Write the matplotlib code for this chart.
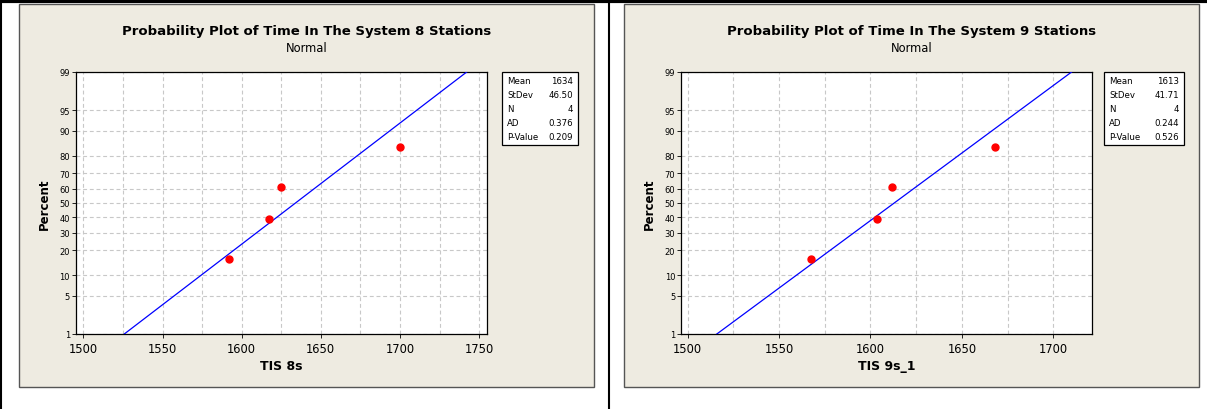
import numpy as np
import matplotlib
matplotlib.use("Agg")
import matplotlib.pyplot as plt
from matplotlib.patches import Rectangle
from matplotlib.lines import Line2D
from statistics import NormalDist

# data
tis8 = [1592.3, 1617.0, 1624.8, 1700.1]
tis9 = [1567.6, 1603.7, 1611.9, 1668.3]
stats_labels = ["Mean", "StDev", "N", "AD", "P-Value"]
stats8 = ["1634", "46.50", "4", "0.376", "0.209"]
stats9 = ["1613", "41.71", "4", "0.244", "0.526"]
mean8, sd8 = 1634, 46.50
mean9, sd9 = 1613, 41.71
pct_ticks = [1, 5, 10, 20, 30, 40, 50, 60, 70, 80, 90, 95, 99]
titles = ["Probability Plot of Time In The System 8 Stations",
          "Probability Plot of Time In The System 9 Stations"]
xlabels = ["TIS 8s", "TIS 9s_1"]

W, H = 1207, 410
nd = NormalDist()

fig = plt.figure(figsize=(W / 100, H / 100), dpi=100)
fig.patch.set_facecolor("white")


def fx(px):
    return px / W


def fy(py):
    return 1 - py / H


def panel(x0, x1, data, mean, sd, stats, title, xlabel, xlim, xmax_tick,
          ax_l, ax_r, leg_l, leg_r):
    # beige graph window
    fig.patches.append(Rectangle((fx(x0), fy(388)), fx(x1) - fx(x0), fy(5) - fy(388),
                                 transform=fig.transFigure, facecolor="#eeebe1",
                                 edgecolor="#555555", lw=1.0, zorder=-1))
    cx = (x0 + x1) / 2
    fig.text(fx(cx), fy(32), title, ha="center", va="center",
             fontsize=9.5, fontweight="bold")
    fig.text(fx(cx), fy(49), "Normal", ha="center", va="center", fontsize=8.3)

    ax = fig.add_axes([fx(ax_l), fy(335), fx(ax_r) - fx(ax_l), fy(73) - fy(335)])
    ax.set_zorder(1)
    ax.set_facecolor("white")
    zlo, zhi = nd.inv_cdf(0.01), nd.inv_cdf(0.99)
    ax.set_ylim(zlo, zhi)
    ax.set_xlim(*xlim)
    yt = [nd.inv_cdf(p / 100) for p in pct_ticks]
    ax.set_yticks(yt)
    ax.set_yticklabels([str(p) for p in pct_ticks], fontsize=6)
    ax.set_xticks(np.arange(1500, xmax_tick + 1, 50))
    ax.set_xticks(np.arange(1500, xmax_tick + 1, 25), minor=True)
    ax.tick_params(axis="x", labelsize=8.3, length=3, width=0.6, pad=3)
    ax.tick_params(axis="x", which="minor", length=0)
    ax.tick_params(axis="y", length=3, width=0.6, pad=1)
    ax.grid(True, which="both", axis="x", ls=(0, (3.5, 2.5)), color="#c8c8c8", lw=0.8)
    ax.grid(True, which="major", axis="y", ls=(0, (3.5, 2.5)), color="#c8c8c8", lw=0.8)
    ax.set_axisbelow(True)
    for s in ax.spines.values():
        s.set_linewidth(0.9)
        s.set_color("black")

    # fitted line from the reported mean and stdev
    zz = np.array([zlo, zhi])
    ax.plot(mean + sd * zz, zz, color="#0000ff", lw=0.9, zorder=3)
    # median ranks
    n = len(data)
    ranks = [(i - 0.3) / (n + 0.4) for i in range(1, n + 1)]
    zr = [nd.inv_cdf(r) for r in ranks]
    ax.plot(sorted(data), zr, "o", color="#ff0000", ms=5, zorder=4)

    ax.set_xlabel(xlabel, fontsize=9, fontweight="bold", labelpad=3)
    ax.set_ylabel("Percent", fontsize=8.5, fontweight="bold", labelpad=6)

    # statistics box
    fig.patches.append(Rectangle((fx(leg_l), fy(146)), fx(leg_r) - fx(leg_l), fy(73) - fy(146),
                                 transform=fig.transFigure, facecolor="white",
                                 edgecolor="black", lw=0.9, zorder=1))
    for i, (lab, val) in enumerate(zip(stats_labels, stats)):
        yy = 82 + i * 14
        fig.text(fx(leg_l + 5), fy(yy), lab, ha="left", va="center", fontsize=6.2)
        fig.text(fx(leg_r - 5), fy(yy), val, ha="right", va="center", fontsize=6.2)
    return ax


panel(19, 594, tis8, mean8, sd8, stats8, titles[0], xlabels[0], (1495, 1755), 1750,
      75.5, 487, 502, 578)
panel(624, 1199, tis9, mean9, sd9, stats9, titles[1], xlabels[1], (1496.2, 1721.2), 1700,
      680.7, 1092, 1104, 1184)

# table borders of the page
fig.lines.append(Line2D([0, 1], [fy(2), fy(2)], transform=fig.transFigure, color="black", lw=3))
fig.lines.append(Line2D([fx(1), fx(1)], [0, 1], transform=fig.transFigure, color="black", lw=1.5))
fig.lines.append(Line2D([fx(608.5), fx(608.5)], [0, 1], transform=fig.transFigure, color="black", lw=1.5))

fig.savefig("out.png", dpi=100)
